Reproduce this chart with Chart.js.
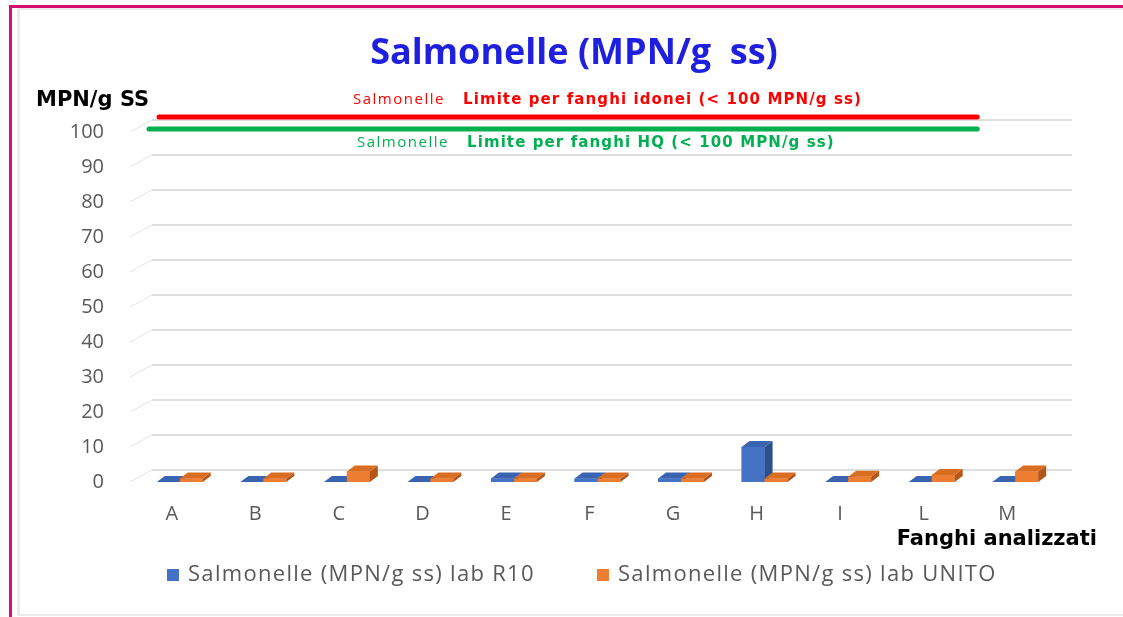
<!DOCTYPE html>
<html>
<head>
<meta charset="utf-8">
<script src="https://cdn.jsdelivr.net/npm/chart.js@4.4.0/dist/chart.umd.min.js"></script>
<style>
    body { margin: 0; background: #fff; }
    #frame {
        position: absolute; left: 9px; top: 5px; width: 1114px; height: 612px;
        border-top: 3px solid #d4106e; border-left: 3px solid #d4106e;
        box-sizing: border-box;
    }
    #inner {
        position: absolute; left: 17px; top: 8px; width: 1106px; height: 608px;
        border-top: 2px solid #ececec; border-left: 3px solid #ececec; border-bottom: 2px solid #ececec;
        box-sizing: border-box;
    }
    #wrap { position: absolute; left: 0; top: 0; width: 1123px; height: 617px; }
</style>
</head>
<body>
<div id="frame"></div>
<div id="inner"></div>
<div id="wrap"><canvas id="chart"></canvas></div>
<script>
// Data
const categories = ['A', 'B', 'C', 'D', 'E', 'F', 'G', 'H', 'I', 'L', 'M'];
const labR10 = [0, 0, 0, 0, 1, 1, 1, 10, 0, 0, 0];
const labUNITO = [1, 1, 3, 1, 1, 1, 1, 1, 1.5, 2, 3];
const yTicks = [0, 10, 20, 30, 40, 50, 60, 70, 80, 90, 100];
const limitIdonei = 100;
const limitHQ = 100;

const titleText = 'Salmonelle (MPN/g  ss)';
const yTitle = 'MPN/g SS';
const xTitle = 'Fanghi analizzati';
const seriesNames = ['Salmonelle (MPN/g ss) lab R10', 'Salmonelle (MPN/g ss) lab UNITO'];

// colours for the fake 3D faces: front, top, side
const faces = [
    ['#4472c4', '#3b64b0', '#2c4f8f'],
    ['#ed7d31', '#d96d22', '#b2561a']
];

// draws the perspective grid, the 3D bars, the legend and the annotations
const decor = {
    id: 'decor',
    beforeDatasetsDraw(chart) {
        const { ctx, chartArea, scales: { y } } = chart;
        ctx.save();
        yTicks.forEach(v => {
            const py = y.getPixelForValue(v);
            ctx.strokeStyle = '#e4e4e4';
            ctx.lineWidth = 1;
            ctx.beginPath();
            ctx.moveTo(chartArea.left - 8, py);
            ctx.lineTo(chartArea.left + 14, py - 12);
            ctx.stroke();
            ctx.strokeStyle = '#dedede';
            ctx.lineWidth = 2;
            ctx.beginPath();
            ctx.moveTo(chartArea.left + 14, py - 12);
            ctx.lineTo(chartArea.right + 15, py - 12);
            ctx.stroke();
        });
        ctx.restore();
    },
    afterDatasetsDraw(chart) {
        const { ctx } = chart;
        const dx = 8, dy = 6;
        ctx.save();
        // redraw every bar in order so the front of the right bar hides the side of the left one
        categories.forEach((c, i) => {
            [0, 1].forEach(d => {
                const bar = chart.getDatasetMeta(d).data[i];
                const col = faces[d];
                const l = bar.x - bar.width / 2, r = bar.x + bar.width / 2;
                const top = bar.y, base = bar.base;
                ctx.fillStyle = col[0];
                ctx.fillRect(l, top, r - l, base - top);
                ctx.fillStyle = col[2];
                ctx.beginPath();
                ctx.moveTo(r, top); ctx.lineTo(r + dx, top - dy);
                ctx.lineTo(r + dx, base - dy); ctx.lineTo(r, base);
                ctx.closePath(); ctx.fill();
                ctx.fillStyle = col[1];
                ctx.beginPath();
                ctx.moveTo(l, top); ctx.lineTo(r, top);
                ctx.lineTo(r + dx, top - dy); ctx.lineTo(l + dx, top - dy);
                ctx.closePath(); ctx.fill();
            });
        });
        ctx.restore();
    },
    afterDraw(chart) {
        const { ctx, chartArea, scales: { x, y } } = chart;
        ctx.save();
        // limit lines
        const xEnd = x.getPixelForValue(categories.length - 1) - 38;
        ctx.lineCap = 'round';
        ctx.lineWidth = 5;
        ctx.strokeStyle = '#ff0000';
        ctx.beginPath();
        ctx.moveTo(chartArea.left + 21, y.getPixelForValue(limitIdonei) - 15);
        ctx.lineTo(xEnd, y.getPixelForValue(limitIdonei) - 15);
        ctx.stroke();
        ctx.strokeStyle = '#00b050';
        ctx.beginPath();
        ctx.moveTo(chartArea.left + 11, y.getPixelForValue(limitHQ) - 3);
        ctx.lineTo(xEnd, y.getPixelForValue(limitHQ) - 3);
        ctx.stroke();

        ctx.textBaseline = 'middle';
        // title
        ctx.fillStyle = '#1f1fe0';
        ctx.textAlign = 'center';
        ctx.font = 'bold 36px "Open Sans"';
        ctx.fillText(titleText, 574, 54);

        // limit labels
        ctx.textAlign = 'left';
        ctx.letterSpacing = '1.5px';
        ctx.fillStyle = '#ff0000';
        ctx.font = '15px "Open Sans"';
        ctx.fillText('Salmonelle', 353, 100);
        ctx.fillStyle = '#00b050';
        ctx.fillText('Salmonelle', 357, 143);
        ctx.letterSpacing = '1.1px';
        ctx.font = 'bold 15px "DejaVu Sans"';
        ctx.fillStyle = '#ff0000';
        ctx.fillText('Limite per fanghi idonei (< ' + limitIdonei + ' MPN/g ss)', 463, 100);
        ctx.fillStyle = '#00b050';
        ctx.fillText('Limite per fanghi HQ (< ' + limitHQ + ' MPN/g ss)', 467, 143);
        ctx.letterSpacing = '0px';

        // axis titles
        ctx.fillStyle = '#000';
        ctx.font = 'bold 21px "DejaVu Sans"';
        ctx.fillText(yTitle, 36, 101);
        ctx.textAlign = 'right';
        ctx.fillText(xTitle, 1097, 540);

        // legend
        const legendX = [167, 597];
        ctx.textAlign = 'left';
        ctx.font = '22px "Open Sans"';
        ctx.letterSpacing = '1.3px';
        seriesNames.forEach((name, d) => {
            ctx.fillStyle = faces[d][0];
            ctx.fillRect(legendX[d], 569, 12, 12);
            ctx.fillStyle = '#595959';
            ctx.fillText(name, legendX[d] + 21, 575);
        });
        ctx.restore();
    }
};

new Chart(document.getElementById('chart'), {
    type: 'bar',
    data: {
        labels: categories,
        datasets: [
            { label: seriesNames[0], data: labR10, backgroundColor: faces[0][0] },
            { label: seriesNames[1], data: labUNITO, backgroundColor: faces[1][0] }
        ]
    },
    options: {
        responsive: true,
        maintainAspectRatio: false,
        animation: false,
        categoryPercentage: 0.55,
        barPercentage: 1,
        layout: { padding: { top: 132, right: 66, bottom: 85, left: 0 } },
        plugins: {
            title: { display: false },
            tooltip: { enabled: false },
            legend: { display: false }
        },
        scales: {
            x: {
                grid: { display: false, drawTicks: false },
                border: { display: false },
                ticks: { color: '#595959', font: { family: 'Open Sans', size: 20 }, labelOffset: -8, padding: 20 },
                afterFit(scale) { scale.height = 50; }
            },
            y: {
                min: 0, max: 100,
                grid: { display: false, drawTicks: false },
                border: { display: false },
                ticks: { stepSize: 10, color: '#595959', font: { family: 'Open Sans', size: 20 }, padding: 34 },
                afterFit(scale) { scale.width = 138; }
            }
        }
    },
    plugins: [decor]
});
</script>
</body>
</html>
